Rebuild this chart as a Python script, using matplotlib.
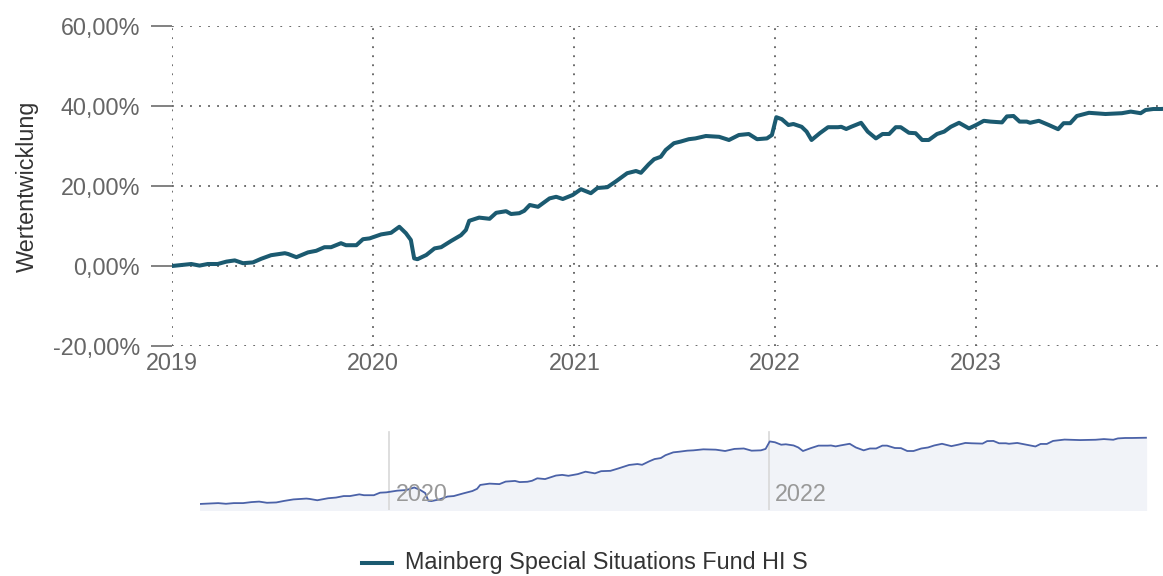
import matplotlib
matplotlib.use("Agg")
import matplotlib.pyplot as plt
import matplotlib.dates as mdates
from matplotlib.ticker import FuncFormatter
import numpy as np
import pandas as pd

plt.rcParams['font.family'] = ['Liberation Sans', 'DejaVu Sans']

series_name = "Mainberg Special Situations Fund HI S"
y_label = "Wertentwicklung"

dates = [
    "2019-01-01", "2019-01-15", "2019-02-05", "2019-02-20", "2019-03-07", "2019-03-25",
    "2019-04-10", "2019-04-25", "2019-05-10", "2019-05-28", "2019-06-12", "2019-06-30",
    "2019-07-25", "2019-07-31", "2019-08-15", "2019-09-05", "2019-09-20", "2019-10-05",
    "2019-10-17", "2019-11-04", "2019-11-13", "2019-12-02", "2019-12-14", "2019-12-26",
    "2020-01-16", "2020-02-03", "2020-02-18", "2020-03-01", "2020-03-10", "2020-03-16",
    "2020-03-22", "2020-04-07", "2020-04-22", "2020-05-04", "2020-05-22", "2020-06-09",
    "2020-06-18", "2020-06-24", "2020-07-12", "2020-07-31", "2020-08-12", "2020-08-30",
    "2020-09-08", "2020-09-23", "2020-10-02", "2020-10-12", "2020-10-27", "2020-11-17",
    "2020-11-29", "2020-12-11", "2020-12-29", "2021-01-13", "2021-01-31", "2021-02-12",
    "2021-03-02", "2021-03-17", "2021-04-07", "2021-04-23", "2021-05-02", "2021-05-16",
    "2021-05-26", "2021-06-07", "2021-06-16", "2021-07-01", "2021-07-13", "2021-07-28",
    "2021-08-09", "2021-08-28", "2021-09-21", "2021-10-09", "2021-10-27", "2021-11-14",
    "2021-11-29", "2021-12-17", "2021-12-26", "2022-01-03", "2022-01-13", "2022-01-25",
    "2022-02-03", "2022-02-18", "2022-02-27", "2022-03-08", "2022-03-23", "2022-04-07",
    "2022-04-25", "2022-05-01", "2022-05-10", "2022-05-19", "2022-06-06", "2022-06-18",
    "2022-07-03", "2022-07-15", "2022-07-27", "2022-08-08", "2022-08-17", "2022-09-01",
    "2022-09-13", "2022-09-25", "2022-10-07", "2022-10-22", "2022-11-04", "2022-11-16",
    "2022-12-01", "2022-12-19", "2023-01-01", "2023-01-15", "2023-01-27", "2023-02-17",
    "2023-02-26", "2023-03-10", "2023-03-21", "2023-04-03", "2023-04-09", "2023-04-25",
    "2023-05-13", "2023-05-30", "2023-06-09", "2023-06-21", "2023-07-03", "2023-07-25",
    "2023-08-24", "2023-09-23", "2023-10-09", "2023-10-27", "2023-11-05", "2023-11-19",
    "2023-12-02", "2023-12-29",
]

values = [
    0.0, 0.2, 0.5, 0.1, 0.5, 0.5,
    1.1, 1.4, 0.7, 0.9, 1.8, 2.7,
    3.2, 3.0, 2.2, 3.4, 3.8, 4.7,
    4.7, 5.7, 5.2, 5.2, 6.7, 6.9,
    7.9, 8.3, 9.8, 8.2, 6.5, 1.9,
    1.7, 2.75, 4.4, 4.7, 6.25, 7.7,
    9.0, 11.3, 12.1, 11.8, 13.3, 13.7,
    13.0, 13.2, 13.8, 15.25, 14.8, 16.9,
    17.3, 16.75, 17.75, 19.2, 18.2, 19.5,
    19.7, 21.1, 23.2, 23.75, 23.3, 25.4,
    26.7, 27.3, 29.0, 30.7, 31.1, 31.7,
    31.9, 32.5, 32.3, 31.5, 32.75, 33.0,
    31.7, 31.9, 32.75, 37.2, 36.7, 35.25,
    35.5, 34.8, 33.6, 31.5, 33.2, 34.7,
    34.7, 34.8, 34.25, 34.8, 35.8, 33.6,
    31.9, 33.0, 33.0, 34.7, 34.7, 33.3,
    33.2, 31.5, 31.5, 33.0, 33.6, 34.8,
    35.8, 34.4, 35.25, 36.3, 36.1, 35.9,
    37.4, 37.5, 36.1, 36.1, 35.8, 36.3,
    35.25, 34.2, 35.7, 35.7, 37.5, 38.3,
    38.0, 38.2, 38.6, 38.2, 39.0, 39.25,
    39.25, 39.4,
]

y_ticks = [-20, 0, 20, 40, 60]
x_tick_years = [2019, 2020, 2021, 2022, 2023]
nav_label_years = [2020, 2022]

d = pd.to_datetime(dates)
v = np.array(values)

W, H = 1163, 576
FS = 16.8
fig = plt.figure(figsize=(W / 100, H / 100), dpi=100)

# ---------------- main chart ----------------
x0, x1 = pd.Timestamp("2019-01-01"), pd.Timestamp("2024-01-01")
left_px, right_px, top_px, bot_px = 172, 1177, 26, 346
ax = fig.add_axes([left_px / W, 1 - bot_px / H, (right_px - left_px) / W, (bot_px - top_px) / H])
ax.set_xlim(x0, x1)
ax.set_ylim(-20, 60)
for s in ax.spines.values():
    s.set_visible(False)

grid_kw = dict(color="#5f5f5f", linewidth=1.3, linestyle=(0, (1, 4.0)), zorder=1)
for yt in y_ticks:
    ax.axhline(yt, **grid_kw)
for yr in x_tick_years:
    ax.axvline(pd.Timestamp(f"{yr}-01-01"), **grid_kw)

ax.plot(d, v, color="#1b5a70", linewidth=2.9, solid_joinstyle="round", zorder=3)

ax.set_yticks(y_ticks)
ax.yaxis.set_major_formatter(FuncFormatter(lambda val, pos: f"{val:.2f}".replace(".", ",") + "%"))
ax.set_xticks([pd.Timestamp(f"{yr}-01-01") for yr in x_tick_years])
ax.set_xticklabels([str(yr) for yr in x_tick_years])
ax.tick_params(axis="y", length=15, width=1.3, color="#777777", labelsize=FS,
               labelcolor="#666666", pad=8)
ax.tick_params(axis="x", length=0, labelsize=FS, labelcolor="#666666", pad=4)
ax.set_ylabel(y_label, fontsize=FS, color="#333333", labelpad=10)

# ---------------- navigator ----------------
nl, nr, nt, nb = 200, 1147.5, 430, 510
nav = fig.add_axes([nl / W, 1 - nb / H, (nr - nl) / W, (nb - nt) / H])
nav.set_xlim(x0, x1)
nav.set_ylim(-3.6, 44)
for s in nav.spines.values():
    s.set_visible(False)
nav.set_xticks([])
nav.set_yticks([])
nav.fill_between(d, v, -3.6, color="#f1f3f8", zorder=1)
nav.plot(d, v, color="#4b62a8", linewidth=1.3, zorder=3)
for yr in nav_label_years:
    t = pd.Timestamp(f"{yr}-01-01")
    nav.axvline(t, ymin=0, ymax=0.97, color="#d8d8d8", linewidth=1.2, zorder=2)
    nav.text(mdates.date2num(t) + 12, -3.6 + 0.19 * 47.6, str(yr), fontsize=FS,
             color="#999999", ha="left", va="center", zorder=4)

# ---------------- legend ----------------
ly = 1 - 563 / H
fig.add_artist(plt.Line2D([362 / W, 392 / W], [ly, ly], color="#1b5a70", linewidth=2.9,
                          transform=fig.transFigure))
fig.text(405 / W, ly, series_name, fontsize=FS, color="#333333", ha="left", va="center")

fig.savefig("out.png", dpi=100)
